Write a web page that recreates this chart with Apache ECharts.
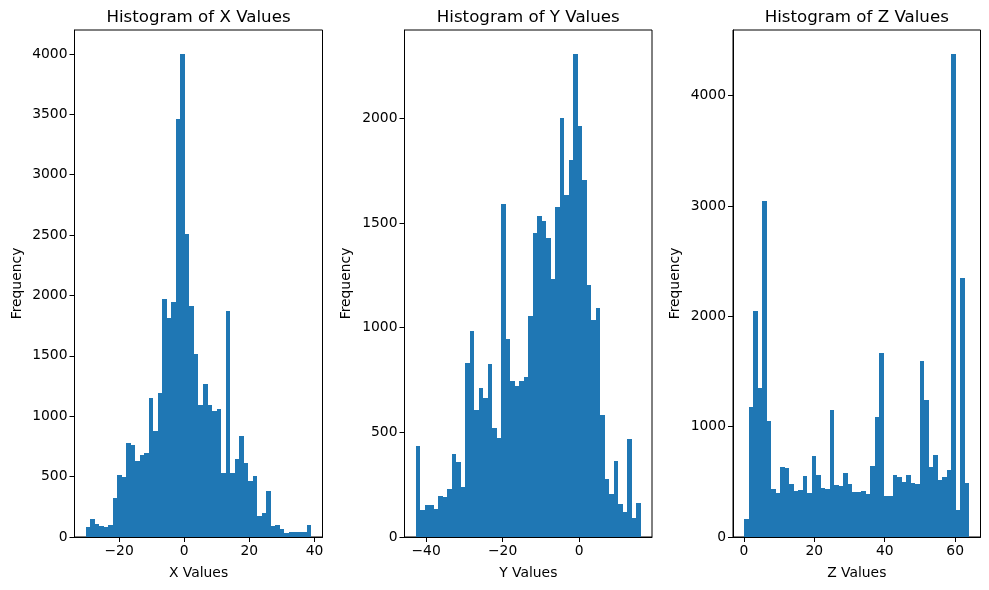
<!DOCTYPE html>
<html>
<head>
<meta charset="utf-8">
<title>Histograms</title>
<script src="https://cdn.jsdelivr.net/npm/echarts@6/dist/echarts.min.js"></script>
<style>
  html, body { margin: 0; padding: 0; background: #fff; }
  #chart { width: 989px; height: 590px; }
</style>
</head>
<body>
<div id="chart"></div>
<script>
// counts per bin (50 bins each)
const xCounts = [86, 150, 110, 94, 86, 102, 326, 516, 500, 781, 765, 632, 682, 698, 1153, 880, 1195, 1973, 1816, 1948,
  3462, 4000, 2511, 1915, 1518, 1096, 1270, 1096, 1046, 1063, 533, 1874, 533, 649, 839, 616, 466, 508, 177, 201,
  384, 94, 102, 69, 36, 44, 44, 44, 44, 102];
const yCounts = [436, 130, 154, 154, 135, 197, 193, 231, 398, 360, 240, 832, 985, 608, 713, 665, 827, 522, 474, 1591,
  947, 746, 722, 746, 765, 1056, 1453, 1534, 1510, 1429, 1233, 1577, 2001, 1634, 1801, 2307, 1963, 1706, 1204, 1037,
  1095, 584, 278, 207, 364, 159, 121, 469, 92, 164];
const zCounts = [166, 1180, 2050, 1352, 3046, 1054, 438, 402, 637, 628, 483, 420, 429, 555, 402, 737, 565, 447, 438, 1153,
  474, 465, 583, 483, 411, 411, 420, 392, 646, 1090, 1670, 374, 374, 565, 546, 501, 565, 492, 483, 1597,
  1244, 637, 746, 519, 546, 610, 4377, 248, 2349, 492];

// where the bins start and end on the data axis
const xRange = [-30.25, 39];
const yRange = [-42.7, 16.1];
const zRange = [0.1, 64];

// tick labels
const xTicks = [-20, 0, 20, 40];
const yTicks = [-40, -20, 0];
const zTicks = [0, 20, 40, 60];
const xFreqTicks = [0, 500, 1000, 1500, 2000, 2500, 3000, 3500, 4000];
const yFreqTicks = [0, 500, 1000, 1500, 2000];
const zFreqTicks = [0, 1000, 2000, 3000, 4000];

const fontName = '"DejaVu Sans"';

// turn counts into [start, end, count] rows for the custom series
function toBins(counts, range) {
  const w = (range[1] - range[0]) / counts.length;
  return counts.map((c, i) => [range[0] + i * w, range[0] + (i + 1) * w, c]);
}

function renderBar(params, api) {
  const a = api.coord([api.value(0), api.value(2)]);
  const b = api.coord([api.value(1), 0]);
  // snap to whole pixels so neighbouring bars leave no seam
  const x0 = Math.round(a[0]);
  const x1 = Math.round(b[0]);
  const y0 = Math.round(a[1]);
  return {
    type: 'rect',
    shape: { x: x0, y: y0, width: x1 - x0, height: b[1] - y0 },
    style: { fill: '#1f77b4' }
  };
}

const panels = [
  { name: 'X', counts: xCounts, range: xRange, ticks: xTicks, freq: xFreqTicks, left: 74.5, right: 322.5, xMin: -33.7, xMax: 42.46, yMax: 4198, nameGap: 50.5 },
  { name: 'Y', counts: yCounts, range: yRange, ticks: yTicks, freq: yFreqTicks, left: 404.5, right: 652, xMin: -45.64, xMax: 19.04, yMax: 2422, nameGap: 51 },
  { name: 'Z', counts: zCounts, range: zRange, ticks: zTicks, freq: zFreqTicks, left: 733, right: 980.5, xMin: -3.1, xMax: 67.2, yMax: 4596, nameGap: 51 }
];

const chart = echarts.init(document.getElementById('chart'), null, { renderer: 'canvas' });
chart.setOption({
  animation: false,
  backgroundColor: '#fff',
  title: panels.map(p => ({
    text: 'Histogram of ' + p.name + ' Values',
    left: (p.left + p.right) / 2,
    top: 9,
    padding: 0,
    textAlign: 'center',
    textStyle: { fontFamily: fontName, fontSize: 16.67, fontWeight: 'normal', color: '#000' }
  })),
  grid: panels.map(p => ({
    left: p.left,
    width: p.right - p.left,
    top: 30,
    height: 507,
    show: true,
    borderColor: '#000',
    borderWidth: 1,
    backgroundColor: 'transparent',
    containLabel: false
  })),
  xAxis: panels.map((p, i) => ({
    type: 'value',
    gridIndex: i,
    min: p.xMin,
    max: p.xMax,
    name: p.name + ' Values',
    nameLocation: 'middle',
    nameGap: 29,
    nameTextStyle: { fontFamily: fontName, fontSize: 13.89, color: '#000' },
    splitLine: { show: false },
    axisLine: { show: true, onZero: false, lineStyle: { color: '#000', width: 1 } },
    axisTick: { show: true, customValues: p.ticks, length: 5, lineStyle: { color: '#000', width: 1 } },
    axisLabel: {
      customValues: p.ticks,
      margin: 7,
      fontFamily: fontName,
      fontSize: 13.89,
      color: '#000',
      formatter: v => String(v).replace('-', '\u2212')
    }
  })),
  yAxis: panels.map((p, i) => ({
    type: 'value',
    gridIndex: i,
    min: 0,
    max: p.yMax,
    name: 'Frequency',
    nameLocation: 'middle',
    nameRotate: 90,
    nameGap: p.nameGap,
    nameTextStyle: { fontFamily: fontName, fontSize: 13.89, color: '#000' },
    splitLine: { show: false },
    axisLine: { show: true, onZero: false, lineStyle: { color: '#000', width: 1 } },
    axisTick: { show: true, customValues: p.freq, length: 5, lineStyle: { color: '#000', width: 1 } },
    axisLabel: {
      customValues: p.freq,
      margin: 7,
      fontFamily: fontName,
      fontSize: 13.89,
      color: '#000',
      formatter: v => String(v)
    }
  })),
  series: panels.map((p, i) => ({
    type: 'custom',
    xAxisIndex: i,
    yAxisIndex: i,
    renderItem: renderBar,
    encode: { x: [0, 1], y: 2 },
    data: toBins(p.counts, p.range)
  }))
});
</script>
</body>
</html>
